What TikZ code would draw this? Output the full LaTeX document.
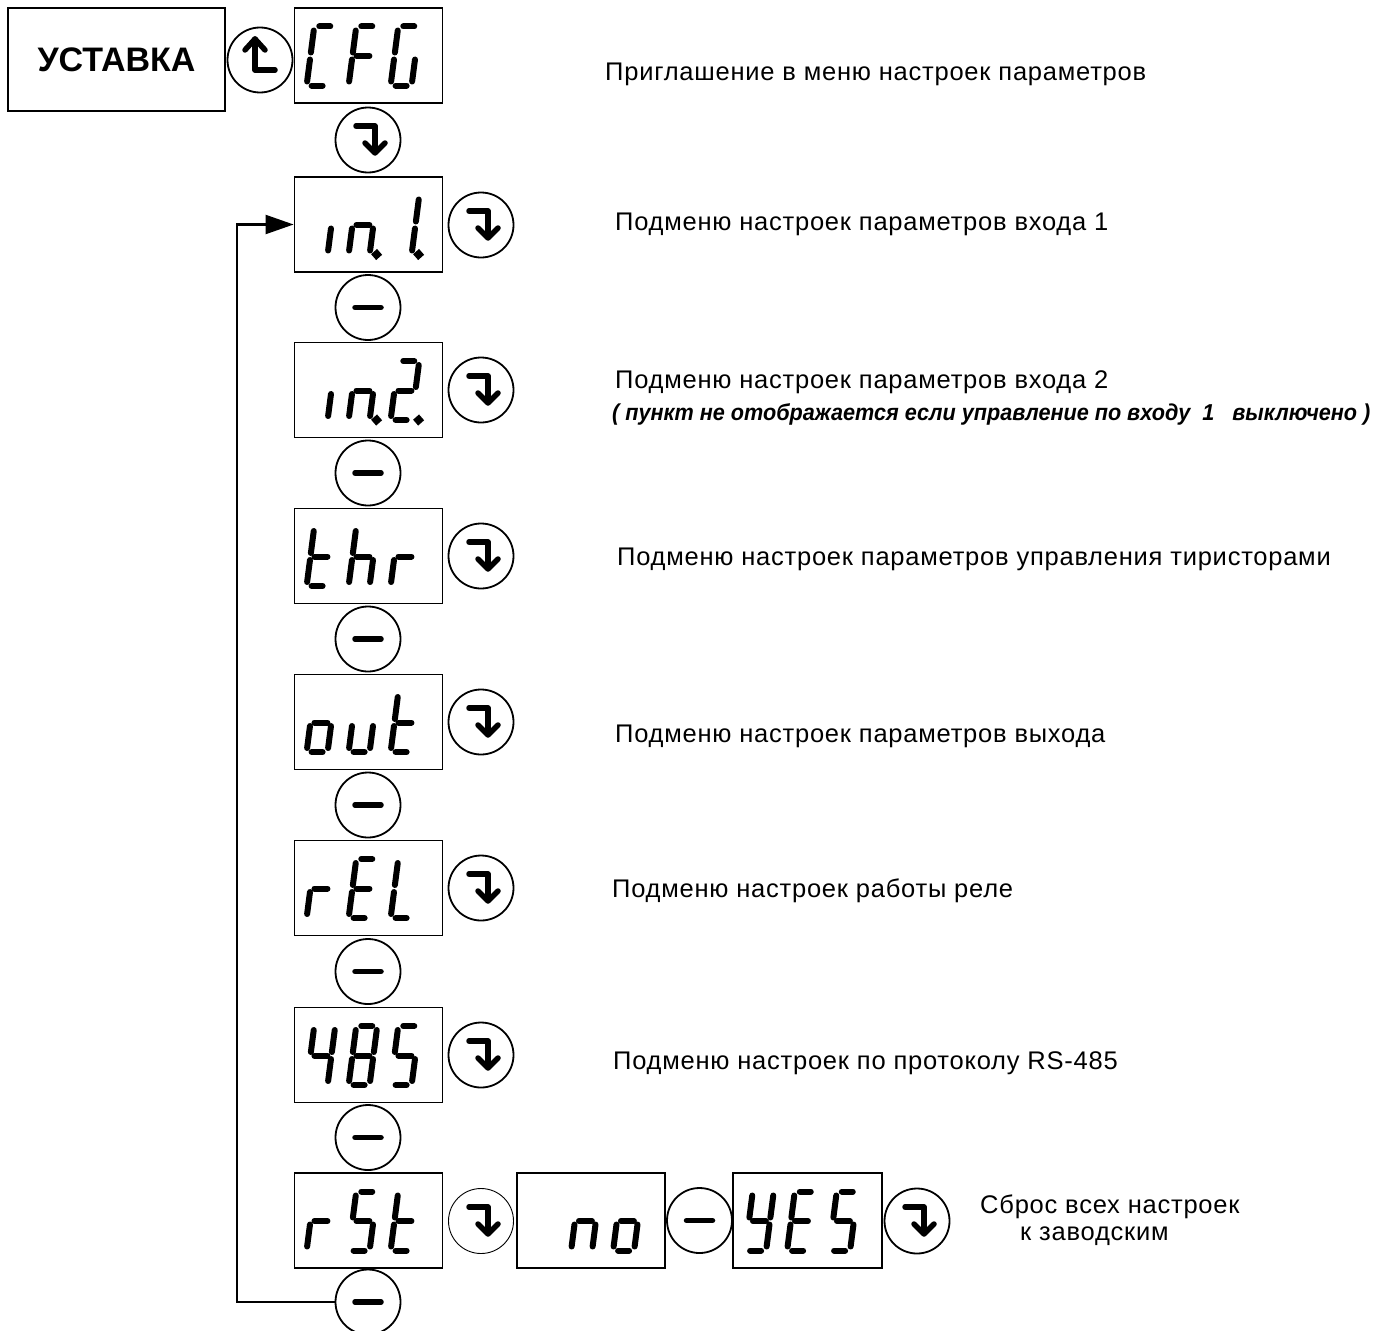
\documentclass[tikz,border=0pt]{standalone}
\usepackage{fontspec}
\setmainfont{Liberation Sans}
\newfontfamily\descfont[LetterSpace=3]{Liberation Sans}
\newfontfamily\notefont[FakeStretch=0.94]{Liberation Sans}
\usetikzlibrary{arrows.meta}

% segments of one display digit
\tikzset{
  segline/.style={draw, line width=6pt, line cap=round},
  sga/.style={insert path={(5,59) -- (16,59)}},
  sgb/.style={insert path={(21,55) -- (21,33)}},
  sgc/.style={insert path={(21,26) -- (21,4)}},
  sgd/.style={insert path={(5,0) -- (16,0)}},
  sge/.style={insert path={(0,26) -- (0,4)}},
  sgf/.style={insert path={(0,55) -- (0,33)}},
  sgg/.style={insert path={(4,29.5) -- (17,29.5)}},
  sgp/.style={insert path={(28,0) circle[radius=1.3]}},
  pics/sevenseg/.style={code={
    \begin{scope}[xslant=0.13]
    \foreach \s in {#1} {\draw[segline, sg\s];}
    \end{scope}
  }},
}

\newcommand{\segshow}[4]{%
  \pic at ([shift={(13,-30)}]#1.west) {sevenseg={#2}};
  \pic at ([shift={(55,-30)}]#1.west) {sevenseg={#3}};
  \pic at ([shift={(97,-30)}]#1.west) {sevenseg={#4}};}

\begin{document}
\begin{tikzpicture}[x=1pt,y=1pt]
\tikzstyle{disp}=[rectangle, draw, line width=1.8pt, minimum width=148pt,
    minimum height=95pt, inner sep=0pt]
\tikzstyle{btn}=[circle, draw, line width=1.8pt, minimum size=65pt, inner sep=0pt]
\tikzstyle{symline}=[line width=5.5pt, line cap=round, line join=round]
\tikzstyle{btndn}=[btn, path picture={
    \begin{scope}[shift={(path picture bounding box.center)}]
    \draw[symline] (-12,14) -- (7,14) -- (7,-10);
    \draw[symline] (-3,-3) -- (7,-13) -- (17,-3);
    \end{scope}}]
\tikzstyle{btnup}=[btn, path picture={
    \begin{scope}[shift={(path picture bounding box.center)}]
    \draw[symline] (-5,21) -- (-5,-10) -- (15,-10);
    \draw[symline] (-15,10) -- (-5,21) -- (5,10);
    \end{scope}}]
\tikzstyle{btnmn}=[btn, path picture={
    \draw[symline] ([xshift=-13pt]path picture bounding box.center)
      -- ([xshift=13pt]path picture bounding box.center);}]
\tikzstyle{txt}=[anchor=base west, inner sep=0pt, font=\descfont\fontsize{25.5}{30}\selectfont]

\useasboundingbox (0,0) rectangle (1380,-1330);

\node[rectangle, draw, line width=1.8pt, minimum width=217pt, minimum height=103pt,
    font=\bfseries\fontsize{34}{40}\selectfont] (set) at (116.5,-59.5) {УСТАВКА};
\node[btnup] (up) at (260,-60) {};

% menu column
\node[disp] (cfg) at (368.5,-55.5) {};
\node[btndn] (dn0) at (368,-140) {};
\node[disp] (in1) at (368.5,-224.5) {};
\node[btnmn] (mn1) at (368,-307.5) {};
\node[disp] (in2) at (368.5,-390) {};
\node[btnmn] (mn2) at (368,-473) {};
\node[disp] (thr) at (368.5,-556) {};
\node[btnmn] (mn3) at (368,-639) {};
\node[disp] (out) at (368.5,-722) {};
\node[btnmn] (mn4) at (368,-805) {};
\node[disp] (rel) at (368.5,-888) {};
\node[btnmn] (mn5) at (368,-971.5) {};
\node[disp] (b485) at (368.5,-1055) {};
\node[btnmn] (mn6) at (368,-1137.5) {};
\node[disp] (rst) at (368.5,-1220.5) {};
\node[btnmn] (mn7) at (368,-1302) {};

% enter buttons
\node[btndn] (r1) at (481,-225) {};
\node[btndn] (r2) at (481,-390) {};
\node[btndn] (r3) at (481,-556) {};
\node[btndn] (r4) at (481,-722) {};
\node[btndn] (r5) at (481,-888) {};
\node[btndn] (r6) at (481,-1055) {};
\node[btndn, line width=0.9pt] (r7) at (481,-1221) {};

% reset row
\node[disp] (no) at (591,-1220.5) {};
\node[btnmn] (mnno) at (699.5,-1220.5) {};
\node[disp, minimum width=149pt] (yes) at (807.5,-1220.5) {};
\node[btndn] (ok) at (917,-1221) {};

% display contents
\segshow{cfg}{a,d,e,f}{a,e,f,g}{a,c,d,e,f}
\segshow{in1}{c}{c,e,g,p}{b,c,p}
\segshow{in2}{c}{c,e,g,p}{a,b,d,e,g,p}
\segshow{thr}{d,e,f,g}{c,e,f,g}{e,g}
\segshow{out}{c,d,e,g}{c,d,e}{d,e,f,g}
\segshow{rel}{e,g}{a,d,e,f,g}{d,e,f}
\segshow{b485}{b,c,f,g}{a,b,c,d,e,f,g}{a,c,d,f,g}
\segshow{rst}{e,g}{a,c,d,f,g}{d,e,f,g}
\pic at ([shift={(55,-30)}]no.west) {sevenseg={c,e,g}};
\pic at ([shift={(97,-30)}]no.west) {sevenseg={c,d,e,g}};
\segshow{yes}{b,c,d,f,g}{a,d,e,f,g}{a,c,d,f,g}

% return line
\coordinate (loopc) at (237,-224.5);
\draw[line width=2.2pt, -{Triangle[length=28pt,width=19pt]}] (mn7.west) -| (loopc) -- (in1.west);

% descriptions
\node[txt] (t0) at (605,-81) {Приглашение в меню настроек параметров};
\node[txt] (t1) at (615,-230) {Подменю настроек параметров входа 1};
\node[txt] (t2) at (615,-388) {Подменю настроек параметров входа 2};
\node[anchor=base west, inner sep=0pt, font=\notefont\bfseries\itshape\fontsize{23}{27}\selectfont]
    (t2n) at (612,-420) {( пункт не отображается если управление по входу~~1~~~выключено )};
\node[txt] (t3) at (617,-565) {Подменю настроек параметров управления тиристорами};
\node[txt] (t4) at (615,-742) {Подменю настроек параметров выхода};
\node[txt] (t5) at (612,-897) {Подменю настроек работы реле};
\node[txt] (t6) at (613,-1069) {Подменю настроек по протоколу RS-485};
\node[txt] (t7) at (980,-1213) {Сброс всех настроек};
\node[txt] (t8) at (1020,-1240) {к заводским};
\end{tikzpicture}
\end{document}
